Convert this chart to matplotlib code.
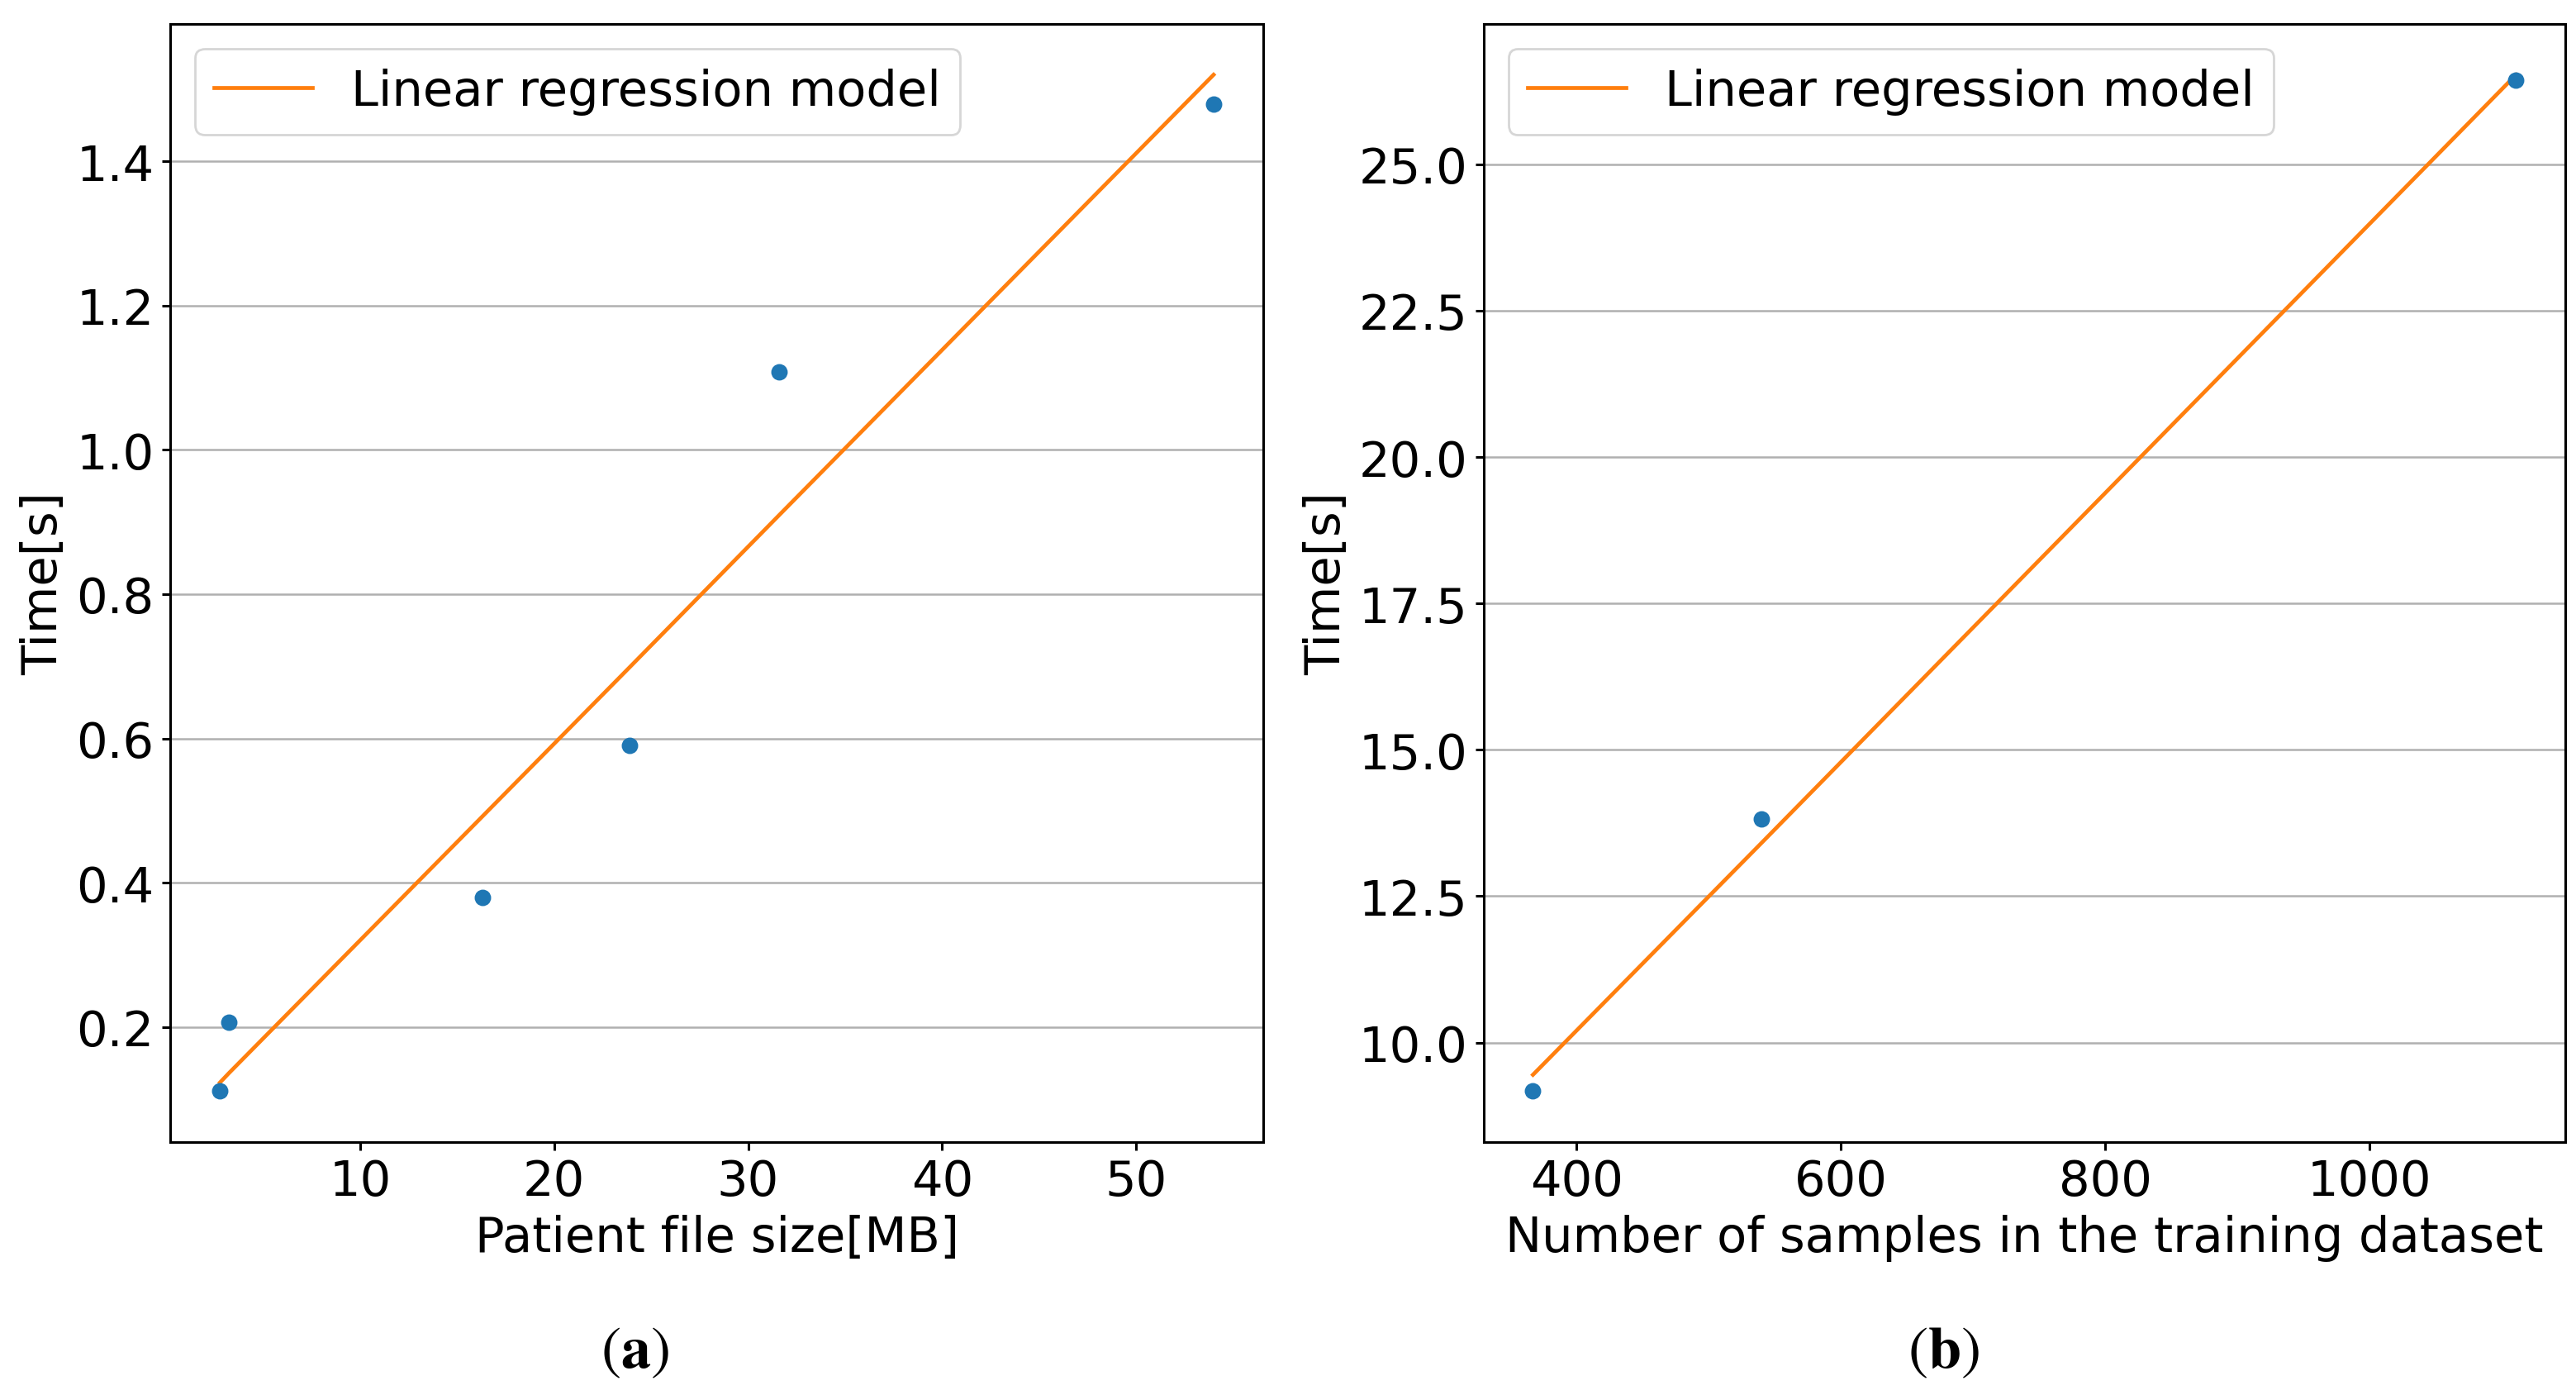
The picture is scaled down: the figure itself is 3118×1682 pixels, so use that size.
import matplotlib
matplotlib.use('Agg')
import matplotlib.pyplot as plt

# (a) file size vs time
size_mb = [2.78, 3.24, 16.31, 23.87, 31.58, 53.99]
time_a = [0.111, 0.206, 0.379, 0.590, 1.108, 1.479]
fit_a = [0.123, 0.136, 0.492, 0.698, 0.909, 1.520]

# (b) training samples vs time
n_samples = [367, 540, 1111]
time_b = [9.17, 13.82, 26.44]
fit_b = [9.45, 13.41, 26.53]

plt.rcParams['font.family'] = ['DejaVu Sans']
plt.rcParams['font.size'] = 21.3
plt.rcParams['axes.linewidth'] = 1.1

fig = plt.figure(figsize=(15.59, 8.415), dpi=200)
ax1 = fig.add_axes([0.0661, 0.1783, 0.4243, 0.8039])
ax2 = fig.add_axes([0.5760, 0.1783, 0.4198, 0.8039])

for ax, x, y, fit, xl in [(ax1, size_mb, time_a, fit_a, 'Patient file size[MB]'),
                          (ax2, n_samples, time_b, fit_b, 'Number of samples in the training dataset')]:
    ax.scatter(x, y, color='#1f77b4', s=38, zorder=3)
    ax.plot(x, fit, color='#ff7f0e', lw=1.7, label='Linear regression model', zorder=2)
    ax.grid(axis='y', color='#b0b0b0', lw=0.9)
    ax.set_axisbelow(True)
    ax.set_xlabel(xl)
    ax.set_ylabel('Time[s]')
    ax.tick_params(width=1.1)
    ax.legend(loc='upper left')

ax1.set_yticks([0.2, 0.4, 0.6, 0.8, 1.0, 1.2, 1.4])
ax1.set_xticks([10, 20, 30, 40, 50])
ax2.set_yticks([10.0, 12.5, 15.0, 17.5, 20.0, 22.5, 25.0])
ax2.set_xticks([400, 600, 800, 1000])

fig.text(0.2465, 0.028, r'$\mathrm{(}\mathbf{a}\mathrm{)}$', ha='center', va='center',
         fontsize=26, math_fontfamily='stix')
fig.text(0.7545, 0.028, r'$\mathrm{(}\mathbf{b}\mathrm{)}$', ha='center', va='center',
         fontsize=26, math_fontfamily='stix')

fig.savefig('out.png', dpi=200)
